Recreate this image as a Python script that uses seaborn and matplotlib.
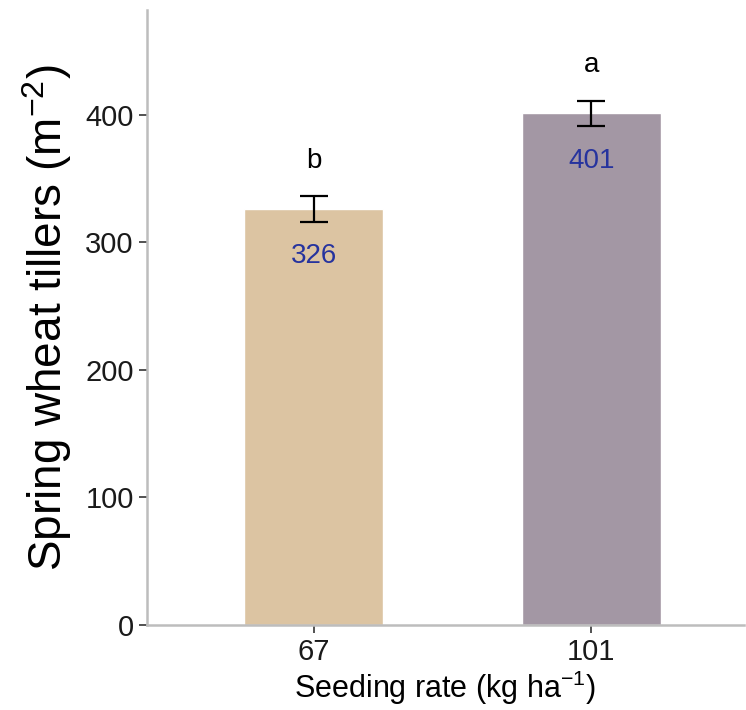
import numpy as np
import pandas as pd
import seaborn as sns
import matplotlib.pyplot as plt

# data
rates = ['67', '101']
tillers = [326, 401]
se = [10, 10]
letters = ['b', 'a']
bar_colors = ['#DCC4A2', '#A397A4']

sns.set_theme(style='white')
plt.rcParams['font.family'] = ['Liberation Sans', 'DejaVu Sans']
plt.rcParams['mathtext.fontset'] = 'custom'
plt.rcParams['mathtext.rm'] = 'Liberation Sans'

df = pd.DataFrame({'rate': rates, 'tillers': tillers})

fig = plt.figure(figsize=(7.46, 7.10), dpi=100)
ax = fig.add_axes([147 / 746, 1 - 625 / 710, 597 / 746, 615 / 710])

sns.barplot(data=df, x='rate', y='tillers', hue='rate', palette=bar_colors,
            width=0.5, legend=False, ax=ax, errorbar=None, saturation=1)

x = np.arange(len(rates))
ax.errorbar(x, tillers, yerr=se, fmt='none', ecolor='black',
            elinewidth=1.6, capsize=10, capthick=1.6)

for i in range(len(rates)):
    ax.text(x[i], tillers[i] + se[i] + 28, letters[i], ha='center', va='center',
            fontsize=20, color='black')
    ax.text(x[i], tillers[i] - 37, str(tillers[i]), ha='center', va='center',
            fontsize=20, color='#26339E')

ax.set_xlim(-0.6, 1.55)
ax.set_ylim(0, 482)
ax.set_yticks([0, 100, 200, 300, 400])

ax.set_ylabel('Spring wheat tillers (m$^{\\mathrm{-2}}$)', fontsize=33, color='black', labelpad=8)
ax.set_xlabel('Seeding rate (kg ha$^{\\mathrm{-1}}$)', fontsize=22, color='black', labelpad=2)

for s in ['top', 'right']:
    ax.spines[s].set_visible(False)
for s in ['left', 'bottom']:
    ax.spines[s].set_color('#BDBDBD')
    ax.spines[s].set_linewidth(1.8)

ax.tick_params(axis='both', labelsize=21, length=6, width=1.2,
               bottom=True, left=True, color='#333333', labelcolor='#1A1A1A')

fig.savefig('out.png', dpi=100)
